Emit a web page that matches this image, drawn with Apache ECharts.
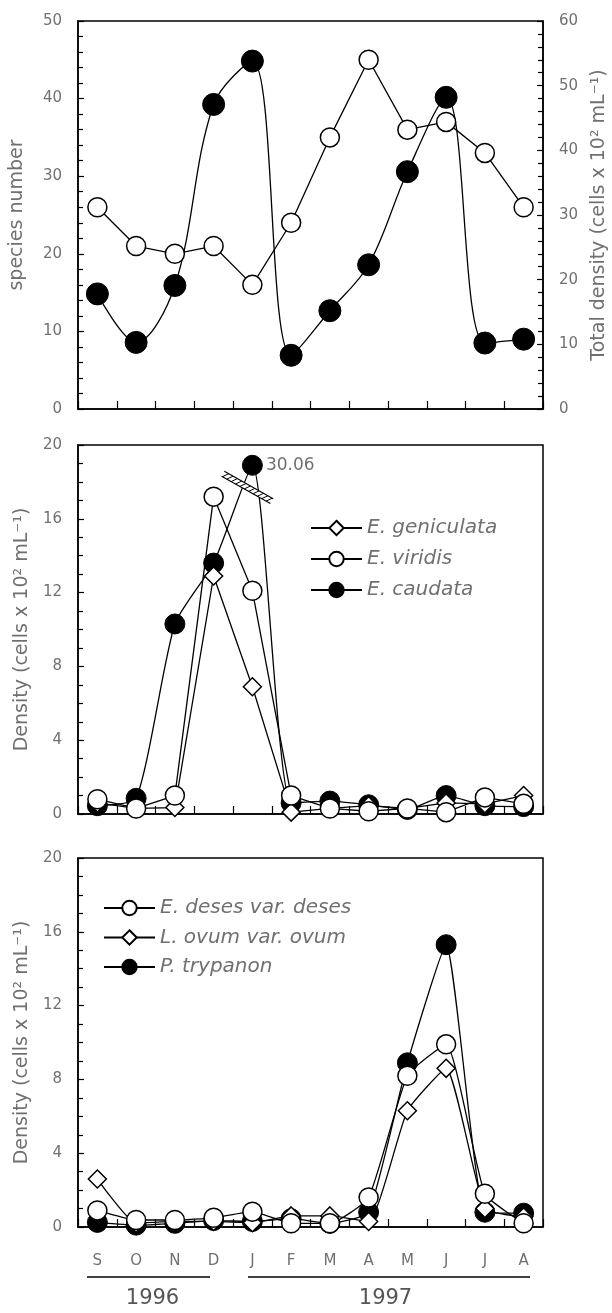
<!DOCTYPE html>
<html><head><meta charset="utf-8">
<script src="https://cdn.jsdelivr.net/npm/echarts@6/dist/echarts.min.js"></script>
<style>html,body{margin:0;padding:0;background:#fff}#c{width:612px;height:1313px}</style>
</head><body><div id="c"></div>
<script>
// ---------- data ----------
const months = ['S','O','N','D','J','F','M','A','M','J','J','A'];
const years = ['1996', '1997'];

// panel 1
const speciesNumber = [26, 21, 20, 21, 16, 24, 35, 45, 36, 37, 33, 26];
const totalDensity  = [17.8, 10.3, 19.1, 47.1, 53.8, 8.3, 15.2, 22.3, 36.7, 48.2, 10.2, 10.8];

// panel 2 (E. caudata January value is off-scale: drawn at the broken top, true value labelled)
const geniculata = [0.6, 0.3, 0.35, 12.9, 6.9, 0.1, 0.3, 0.45, 0.3, 0.6, 0.55, 1.0];
const viridis    = [0.8, 0.3, 1.0, 17.2, 12.1, 1.0, 0.3, 0.15, 0.3, 0.1, 0.9, 0.55];
const caudata    = [0.45, 0.85, 10.3, 13.6, 18.9, 0.6, 0.7, 0.5, 0.25, 1.0, 0.45, 0.4];
const caudataBreakIndex = 4;
const caudataBreakLabel = '30.06';
const breakMark = [4, 17.7];

// panel 3
const deses    = [0.9, 0.38, 0.38, 0.5, 0.83, 0.2, 0.2, 1.6, 8.2, 9.9, 1.8, 0.2];
const ovum     = [2.6, 0.2, 0.3, 0.3, 0.23, 0.6, 0.6, 0.3, 6.3, 8.6, 1.0, 0.55];
const trypanon = [0.25, 0.1, 0.2, 0.35, 0.3, 0.45, 0.2, 0.8, 8.9, 15.3, 0.8, 0.75];

// ---------- styling ----------
const FONT = 'DejaVu Sans';
const GREY = '#707070';
const LINE = {color: '#000', width: 1.3};
const openSym = {color: '#fff', borderColor: '#000', borderWidth: 1.5};
const fillSym = {color: '#000', borderColor: '#000', borderWidth: 1};

const chart = echarts.init(document.getElementById('c'), null, {renderer: 'canvas'});

function gridBox(top, height) {
  return {left: 78, top: top, width: 465, height: height, show: true,
    borderColor: '#000', borderWidth: 1.5, backgroundColor: 'transparent',
    containLabel: false, outerBoundsMode: 'none'};
}
function xAx(gi, showLabels) {
  return {type: 'category', gridIndex: gi, data: months, boundaryGap: true,
    axisLine: {show: true, lineStyle: {color: '#000', width: 1.5}},
    axisTick: {show: true, inside: true, length: 8, interval: 0, lineStyle: {color: '#000', width: 1.2}},
    axisLabel: {show: showLabels, interval: 0, margin: 27, color: GREY, fontFamily: FONT, fontSize: 15},
    splitLine: {show: false}};
}
function yAx(gi, pos, max, interval, minorSplit, name, nameGap) {
  return {type: 'value', gridIndex: gi, position: pos, min: 0, max: max, interval: interval,
    axisLine: {show: true, onZero: false, lineStyle: {color: '#000', width: 1.5}},
    axisTick: {show: true, inside: true, length: 6, lineStyle: {color: '#000', width: 1.2}},
    minorTick: {show: true, splitNumber: minorSplit, length: 5, lineStyle: {color: '#000', width: 1.2}},
    axisLabel: {show: true, margin: 16, color: GREY, fontFamily: FONT, fontSize: 15},
    splitLine: {show: false}, minorSplitLine: {show: false},
    name: name, nameLocation: 'middle', nameRotate: 90, nameGap: nameGap,
    nameTextStyle: {color: GREY, fontFamily: FONT, fontSize: 19}};
}
function lineSeries(name, xi, yi, data, symbol, size, style, smooth, z) {
  return {type: 'line', name: name, xAxisIndex: xi, yAxisIndex: yi, data: data,
    symbol: symbol, symbolSize: size, showSymbol: true, showAllSymbol: true,
    smooth: smooth, itemStyle: style, lineStyle: LINE, z: z,
    emphasis: {disabled: true}, animation: false};
}

const caudataData = caudata.map((v, i) => i === caudataBreakIndex
  ? {value: v, label: {show: true, position: 'right', distance: 3, formatter: caudataBreakLabel,
      color: GREY, fontFamily: FONT, fontSize: 17}}
  : v);

const legendText = {fontStyle: 'italic', fontSize: 20, color: GREY, fontFamily: FONT};

const option = {
  animation: false,
  backgroundColor: '#fff',
  grid: [gridBox(21, 388), gridBox(445, 369), gridBox(858, 369)],
  xAxis: [xAx(0, false), xAx(1, false), xAx(2, true)],
  yAxis: [
    yAx(0, 'left', 50, 10, 5, 'species number', 51),
    yAx(0, 'right', 60, 10, 5, 'Total density (cells x 10² mL⁻¹)', 47),
    yAx(1, 'left', 20, 4, 4, 'Density (cells x 10² mL⁻¹)', 46),
    yAx(2, 'left', 20, 4, 4, 'Density (cells x 10² mL⁻¹)', 46)
  ],
  legend: [
    {data: ['E. geniculata', 'E. viridis', 'E. caudata'], orient: 'vertical', left: 305, top: 513,
      itemWidth: 51, itemHeight: 18, itemGap: 11, textStyle: legendText, selectedMode: false},
    {data: ['E. deses var. deses', 'L. ovum var. ovum', 'P. trypanon'], orient: 'vertical', left: 98, top: 893,
      itemWidth: 51, itemHeight: 18, itemGap: 9.5, textStyle: legendText, selectedMode: false}
  ],
  series: [
    lineSeries('total density', 0, 1, totalDensity, 'circle', 22, fillSym, 0.35, 3),
    lineSeries('species number', 0, 0, speciesNumber, 'circle', 19, openSym, false, 4),

    lineSeries('E. caudata', 1, 2, caudataData, 'circle', 20, fillSym, 0.2, 3),
    lineSeries('E. geniculata', 1, 2, geniculata, 'diamond', 18, openSym, false, 4),
    lineSeries('E. viridis', 1, 2, viridis, 'circle', 19, openSym, false, 5),
    {type: 'custom', xAxisIndex: 1, yAxisIndex: 2, data: [breakMark], silent: true, z: 10,
      renderItem: function (params, api) {
        const p = api.coord([api.value(0), api.value(1)]);
        const cx = p[0] - 5, cy = p[1];
        const a = Math.atan2(28, 50);
        const dx = Math.cos(a), dy = Math.sin(a);
        const nx = -dy, ny = dx;
        const L = 28, w = 2.8;
        const pt = (t, s) => [cx + dx * t + nx * s, cy + dy * t + ny * s];
        const children = [
          {type: 'polygon', shape: {points: [pt(-L, -w), pt(L, -w), pt(L, w), pt(-L, w)]},
            style: {fill: '#fff'}},
          {type: 'line', shape: {x1: pt(-L, -w)[0], y1: pt(-L, -w)[1], x2: pt(L, -w)[0], y2: pt(L, -w)[1]},
            style: {stroke: '#000', lineWidth: 1.1}},
          {type: 'line', shape: {x1: pt(-L, w)[0], y1: pt(-L, w)[1], x2: pt(L, w)[0], y2: pt(L, w)[1]},
            style: {stroke: '#000', lineWidth: 1.1}}
        ];
        for (let t = -L + 3; t <= L - 3; t += 5) {
          const a1 = pt(t - 2, w), a2 = pt(t + 2, -w);
          children.push({type: 'line', shape: {x1: a1[0], y1: a1[1], x2: a2[0], y2: a2[1]},
            style: {stroke: '#000', lineWidth: 1}});
        }
        return {type: 'group', children: children};
      }},

    lineSeries('P. trypanon', 2, 3, trypanon, 'circle', 20, fillSym, 0.15, 3),
    lineSeries('L. ovum var. ovum', 2, 3, ovum, 'diamond', 18, openSym, 0.15, 4),
    lineSeries('E. deses var. deses', 2, 3, deses, 'circle', 19, openSym, 0.15, 5)
  ],
  graphic: [
    {type: 'line', shape: {x1: 87, y1: 1277, x2: 210, y2: 1277}, style: {stroke: '#000', lineWidth: 1.5}},
    {type: 'line', shape: {x1: 248, y1: 1277, x2: 530, y2: 1277}, style: {stroke: '#000', lineWidth: 1.5}},
    {type: 'text', x: 152.5, y: 1299, style: {text: years[0], fontSize: 21, fontFamily: FONT, fill: '#555',
      align: 'center', verticalAlign: 'middle'}},
    {type: 'text', x: 385.5, y: 1299, style: {text: years[1], fontSize: 21, fontFamily: FONT, fill: '#555',
      align: 'center', verticalAlign: 'middle'}}
  ]
};
chart.setOption(option);
</script>
</body></html>
